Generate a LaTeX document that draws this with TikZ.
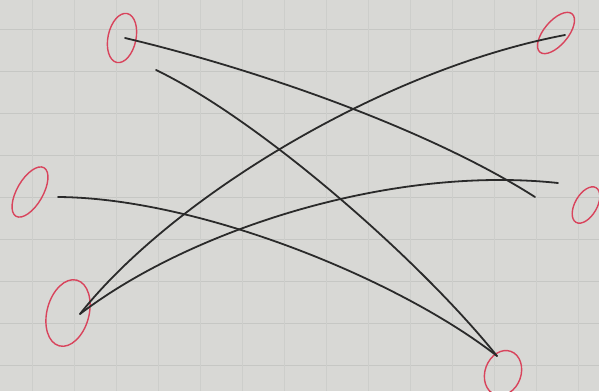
\documentclass[tikz,border=0pt]{standalone}
\usepackage{tikz}
\usetikzlibrary{calc,shapes.geometric}
\definecolor{paper}{HTML}{D8D8D5}
\definecolor{rule}{HTML}{C6C7C4}
\definecolor{pen}{HTML}{2A2A2A}
\definecolor{marker}{HTML}{D8445C}

\begin{document}
\begin{tikzpicture}[
  x=1pt, y=-1pt,
  gridline/.style={rule, line width=0.8pt},
  ring/.style={
    ellipse,
    draw=marker,
    line width=1.4pt,
    inner sep=0pt
  },
  stroke/.style={pen, line width=1.8pt, line cap=round}
]

\fill[paper] (0,0) rectangle (599,391);
\useasboundingbox (0,0) rectangle (599,391);
\foreach \gy in {29,71,...,365}
  \draw[gridline] (0,\gy) -- (599,\gy);
\foreach \gx in {32,74,...,578}
  \draw[gridline, rule!60!paper] (\gx,0) -- (\gx,391);

\node[ring, minimum width=28pt, minimum height=50pt, rotate=-12] (topleft) at (122,38) {};
\node[ring, minimum width=24pt, minimum height=50pt, rotate=-40] (topright) at (556,33) {};
\node[ring, minimum width=26pt, minimum height=56pt, rotate=-30] (midleft) at (30,192) {};
\node[ring, minimum width=22pt, minimum height=40pt, rotate=-30] (midright) at (586,205) {};
\node[ring, minimum width=42pt, minimum height=68pt, rotate=-15] (botleft) at (68,313) {};
\node[ring, minimum width=36pt, minimum height=46pt, rotate=-20] (botright) at (503,373) {};

\coordinate (tailA) at (535,197);
\coordinate (tailB) at (156,70);
\coordinate (tailE) at (558,183);

\draw[stroke] ($(topleft.center)+(3,0)$) .. controls (260,70) and (430,130) .. (tailA);
\draw[stroke] (tailB) .. controls (260,120) and (420,260) .. ($(botright.center)+(-6,-17)$);
\draw[stroke] ($(midleft.center)+(28,5)$) .. controls (200,198) and (400,280) .. ($(botright.center)+(-6,-17)$);
\draw[stroke] ($(botleft.center)+(12,1)$) .. controls (170,200) and (380,70) .. ($(topright.center)+(9,2)$);
\draw[stroke] ($(botleft.center)+(12,1)$) .. controls (190,230) and (390,165) .. (tailE);

\end{tikzpicture}
\end{document}
